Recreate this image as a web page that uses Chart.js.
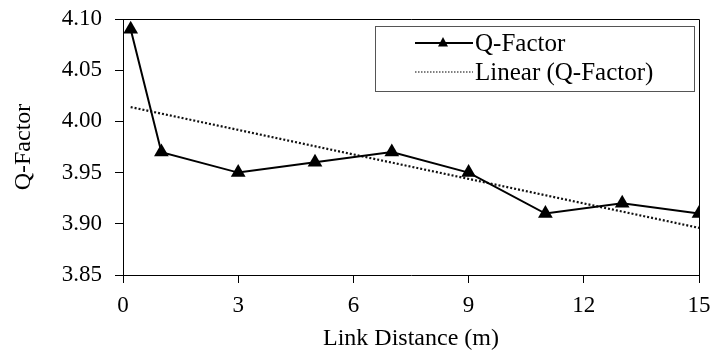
<!DOCTYPE html>
<html>
<head>
<meta charset="utf-8">
<script src="https://cdn.jsdelivr.net/npm/chart.js@4/dist/chart.umd.min.js"></script>
<style>
html,body{margin:0;padding:0;background:#fff;}
#wrap{width:712px;height:354px;}
</style>
</head>
<body>
<div id="wrap"><canvas id="c" width="712" height="354"></canvas></div>
<script>
const distances = [0.2, 1, 3, 5, 7, 9, 11, 13, 15];
const qFactor = [4.09, 3.97, 3.95, 3.96, 3.97, 3.95, 3.91, 3.92, 3.91];
const trendX = [0.2, 15];
const trendY = [4.014, 3.896];
const xTicks = [0, 3, 6, 9, 12, 15];
const yTicks = [3.85, 3.90, 3.95, 4.00, 4.05, 4.10];
const seriesLabels = ['Q-Factor', 'Linear (Q-Factor)'];
const axisTitles = {x: 'Link Distance (m)', y: 'Q-Factor'};

const FONT = "'Liberation Serif', 'Times New Roman', serif";

const framePlugin = {
  id: 'frame',
  afterDatasetsDraw(chart) {
    const {ctx, chartArea: a} = chart;
    ctx.save();
    ctx.strokeStyle = '#000';
    ctx.lineWidth = 1;
    ctx.beginPath();
    ctx.moveTo(a.left, a.top + 0.5);
    ctx.lineTo(a.right + 0.5, a.top + 0.5);
    ctx.lineTo(a.right + 0.5, a.bottom);
    ctx.stroke();
    ctx.restore();
  }
};

const legendPlugin = {
  id: 'boxLegend',
  afterDraw(chart) {
    const ctx = chart.ctx;
    const x0 = 375, y0 = 26, w = 319, h = 65;
    ctx.save();
    ctx.fillStyle = '#fff';
    ctx.fillRect(x0, y0, w, h);
    ctx.strokeStyle = '#555';
    ctx.lineWidth = 1;
    ctx.strokeRect(x0 + 0.5, y0 + 0.5, w, h);
    const ds = chart.data.datasets;
    const sx1 = 415, sx2 = 473, tx = 475;
    const rows = [43, 72];
    ctx.font = "25px " + FONT;
    ctx.fillStyle = '#000';
    ctx.textBaseline = 'middle';
    ctx.strokeStyle = '#000';
    ctx.lineWidth = 2;
    ctx.beginPath(); ctx.moveTo(sx1, rows[0]); ctx.lineTo(sx2, rows[0]); ctx.stroke();
    const cx = (sx1 + sx2) / 2 - 1, r = 5;
    ctx.beginPath();
    ctx.moveTo(cx, rows[0] - r - 1);
    ctx.lineTo(cx + r, rows[0] + r * 0.7);
    ctx.lineTo(cx - r, rows[0] + r * 0.7);
    ctx.closePath(); ctx.fill();
    ctx.fillText(ds[0].label, tx, rows[0] + 1);
    ctx.lineWidth = 1.2;
    ctx.setLineDash([1.5, 1.5]);
    ctx.beginPath(); ctx.moveTo(sx1, rows[1]); ctx.lineTo(sx2, rows[1]); ctx.stroke();
    ctx.setLineDash([]);
    ctx.fillText(ds[1].label, tx, rows[1] + 1);
    ctx.restore();
  }
};

new Chart(document.getElementById('c'), {
  type: 'scatter',
  data: {
    datasets: [
      {
        label: seriesLabels[0],
        data: distances.map((x, i) => ({x, y: qFactor[i]})),
        showLine: true,
        borderColor: '#000',
        backgroundColor: '#000',
        borderWidth: 2,
        pointStyle: 'triangle',
        pointRadius: 8.5,
        pointBorderWidth: 0,
        order: 1
      },
      {
        label: seriesLabels[1],
        data: trendX.map((x, i) => ({x, y: trendY[i]})),
        showLine: true,
        borderColor: '#111',
        borderWidth: 2.2,
        borderDash: [2, 2],
        pointRadius: 0,
        order: 2
      }
    ]
  },
  options: {
    responsive: false,
    animation: false,
    devicePixelRatio: 1,
    layout: {padding: {top: 19, right: 13, left: 0, bottom: 0}},
    plugins: {legend: {display: false}, tooltip: {enabled: false}},
    scales: {
      x: {
        type: 'linear', min: 0, max: 15,
        afterBuildTicks: s => { s.ticks = xTicks.map(v => ({value: v})); },
        afterFit: s => { s.height = 79; s.paddingLeft = 0; s.paddingRight = 0; },
        grid: {drawOnChartArea: false, drawTicks: true, tickLength: 8, color: '#000'},
        border: {display: true, color: '#000', width: 1},
        ticks: {color: '#000', font: {family: FONT, size: 23}, padding: 9, maxRotation: 0},
        title: {display: true, text: axisTitles.x, color: '#000', font: {family: FONT, size: 24}, padding: {top: 0, bottom: 1}}
      },
      y: {
        type: 'linear', min: 3.85, max: 4.10,
        afterBuildTicks: s => { s.ticks = yTicks.map(v => ({value: v})); },
        afterFit: s => { s.width = 123; s.paddingTop = 0; s.paddingBottom = 0; },
        grid: {drawOnChartArea: false, drawTicks: true, tickLength: 8, color: '#000'},
        border: {display: true, color: '#000', width: 1},
        ticks: {color: '#000', font: {family: FONT, size: 23}, padding: 13, callback: v => v.toFixed(2)},
        title: {display: true, text: axisTitles.y, color: '#000', font: {family: FONT, size: 24}, padding: {top: 9, bottom: 0}}
      }
    }
  },
  plugins: [framePlugin, legendPlugin]
});
</script>
</body>
</html>
